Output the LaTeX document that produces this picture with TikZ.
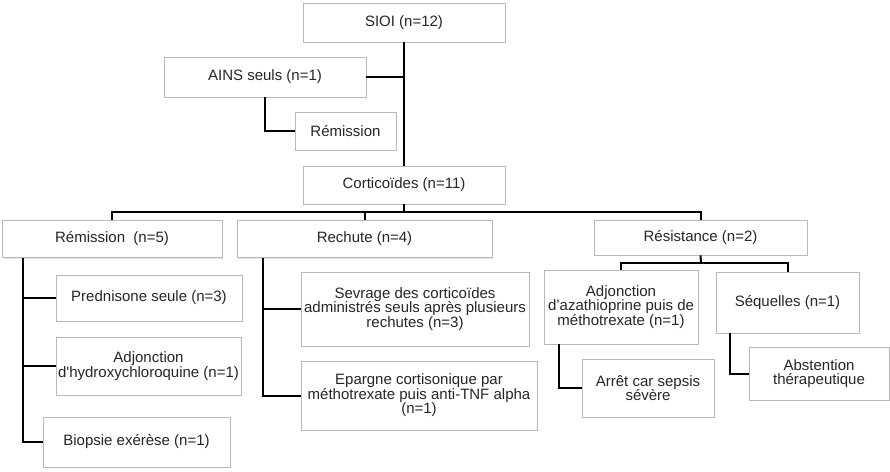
\documentclass[tikz,border=0pt]{standalone}
\usepackage{fontspec}
\setmainfont{Liberation Sans}
\usetikzlibrary{shadows}

\begin{document}
\begin{tikzpicture}[x=1pt,y=-1pt,line width=2pt,
                    font=\fontsize{15}{14.5}\selectfont]
  \tikzstyle{box}=[draw=gray!55,line width=0.8pt,fill=white,text=black!85,
                   align=center,inner sep=2pt,
                   drop shadow={shadow xshift=1.2pt,shadow yshift=-1.2pt,opacity=0.2}]
  \useasboundingbox (0,0) rectangle (890,471);

  % top levels
  \node[box,minimum width=202pt,minimum height=39pt] (sioi)    at (404,22.5) {SIOI (n=12)};
  \node[box,minimum width=202pt,minimum height=40pt] (ains)    at (265,77)   {AINS seuls (n=1)};
  \node[box,minimum width=101pt,minimum height=38pt] (remA)    at (345.5,131){Rémission};
  \node[box,minimum width=202pt,minimum height=38pt] (cortico) at (404,185)  {Corticoïdes (n=11)};

  % second level
  \node[box,minimum width=220pt,minimum height=37pt] (remB)    at (112,239)  {Rémission~~(n=5)};
  \node[box,minimum width=255pt,minimum height=37pt] (rechute) at (364.5,239){Rechute (n=4)};
  \node[box,minimum width=213pt,minimum height=35pt] (resist)  at (700.5,237.5){Résistance (n=2)};

  % under remission
  \node[box,minimum width=186pt,minimum height=46pt] (pred)    at (149,298)  {Prednisone seule (n=3)};
  \node[box,minimum width=185pt,minimum height=58pt] (hydro)   at (148.5,366){Adjonction\\d\textquotesingle hydroxychloroquine (n=1)};
  \node[box,minimum width=187pt,minimum height=50pt] (biop)    at (136.5,442){Biopsie exérèse (n=1)};

  % under rechute
  \node[box,minimum width=228pt,minimum height=74pt] (sevr)    at (415,309)  {Sevrage des corticoïdes\\administrés seuls après plusieurs\\rechutes (n=3)};
  \node[box,minimum width=236pt,minimum height=69pt] (epar)    at (419,395.5){Epargne cortisonique par\\méthotrexate puis anti-TNF alpha\\(n=1)};

  % under resistance
  \node[box,minimum width=154pt,minimum height=74pt] (azat)    at (621,307)  {Adjonction\\d’azathioprine puis de\\méthotrexate (n=1)};
  \node[box,minimum width=143pt,minimum height=61pt] (sequ)    at (787.5,302.5){Séquelles (n=1)};
  \node[box,minimum width=132pt,minimum height=58pt] (arret)   at (648,388)  {Arrêt car sepsis\\sévère};
  \node[box,minimum width=140pt,minimum height=53pt] (abst)    at (819,373.5){Abstention\\thérapeutique};

  % free ends of the connectors
  \coordinate (bus)   at (404,212);
  \coordinate (rbus)  at (701,263);
  \coordinate (remBt) at (23,257.5);
  \coordinate (rechT) at (263,257.5);
  \coordinate (azatT) at (559,344);
  \coordinate (sequT) at (730,333);

  \draw (sioi.south) -- (cortico.north);
  \draw (ains.east) -- (ains.east -| sioi.south);
  \draw (ains.south) |- (remA.west);
  \draw (cortico.south) -- (bus);
  \draw (remB.north) |- (bus) -| (resist.north);
  \draw (rechute.north) -- (rechute.north |- bus);
  \draw (remBt) |- (pred.west)
        (remBt) |- (hydro.west)
        (remBt) |- (biop.west);
  \draw (rechT) |- (sevr.west)
        (rechT) |- (epar.west);
  \draw (resist.south) -- (rbus);
  \draw (azat.north) |- (rbus) -| (sequ.north);
  \draw (azatT) |- (arret.west);
  \draw (sequT) |- (abst.west);
\end{tikzpicture}
\end{document}
